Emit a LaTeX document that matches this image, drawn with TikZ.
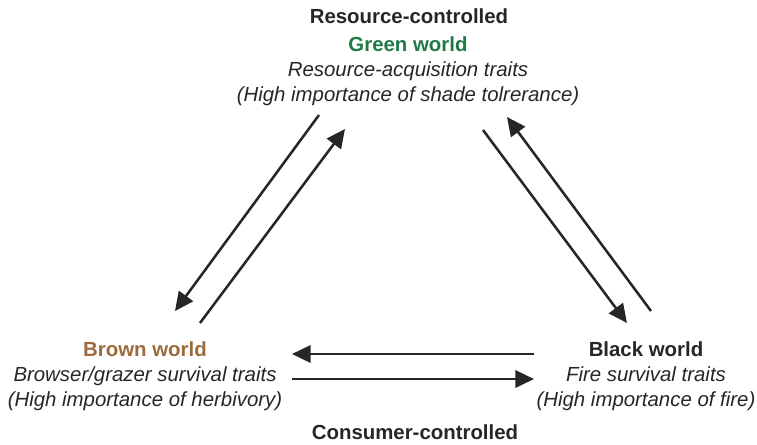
\documentclass[tikz,border=0pt]{standalone}
\usepackage{fontspec}
\setmainfont{Liberation Sans}
\usetikzlibrary{arrows.meta}
\definecolor{wTxt}{HTML}{262626}
\definecolor{wGreen}{HTML}{1f7a45}
\definecolor{wBrown}{HTML}{9c6b3c}
\tikzset{
  >={Triangle[length=14pt,width=13pt]},
  ctrl/.style={font=\fontsize{15.3}{18.75}\selectfont\bfseries, text=wTxt,
              inner sep=0pt, anchor=base},
  world/.style={align=center, font=\fontsize{15.3}{18.75}\selectfont\itshape,
              text=wTxt, inner sep=0pt},
  flux/.style={->, draw=wTxt, line width=1.9pt},
}

\begin{document}
\begin{tikzpicture}[x=0.75pt,y=-0.75pt]
  \useasboundingbox (0,0) rectangle (757,444);
  % control labels
  \node[ctrl] (resctrl) at (409,23.5) {Resource-controlled};
  \node[ctrl] (conctrl) at (415,439.5) {Consumer-controlled};
  % the three worlds
  \node[world] (green) at (408,71)
    {{\bfseries\upshape\color{wGreen}Green world}\\
     Resource-acquisition traits\\
     (High importance of shade tolrerance)};
  \node[world] (brown) at (145,376)
    {{\bfseries\upshape\color{wBrown}Brown world}\\
     Browser/grazer survival traits\\
     (High importance of herbivory)};
  \node[world] (black) at (646,376)
    {{\bfseries\upshape Black world}\\
     Fire survival traits\\
     (High importance of fire)};
  % arrow ends
  \coordinate (gbA) at (319,115);  \coordinate (gbB) at (175,311);
  \coordinate (bgA) at (200,323);  \coordinate (bgB) at (345,129);
  \coordinate (gkA) at (483,130);  \coordinate (gkB) at (627,323);
  \coordinate (kgA) at (651,311);  \coordinate (kgB) at (507,117);
  \coordinate (kbA) at (534,354);  \coordinate (kbB) at (292,354);
  \coordinate (bkA) at (292,379);  \coordinate (bkB) at (534,379);
  \foreach \a in {gb,bg,gk,kg,kb,bk}{
    \draw[flux] (\a A) -- (\a B);}
\end{tikzpicture}
\end{document}
